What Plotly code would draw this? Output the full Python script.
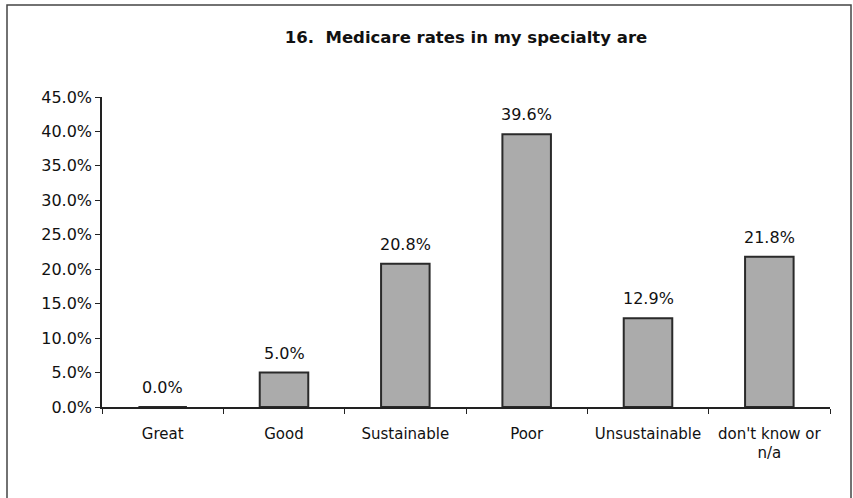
import plotly.graph_objects as go

categories = ["Great", "Good", "Sustainable", "Poor", "Unsustainable", "don't know or<br>n/a"]
values = [0.0, 0.050, 0.208, 0.396, 0.129, 0.218]
y_tickvals = [0, 0.05, 0.10, 0.15, 0.20, 0.25, 0.30, 0.35, 0.40, 0.45]

W, H = 853, 498
L, R, T, B = 102, 23, 97, 91
pw, ph = W - L - R, H - T - B

def px_x(px):
    return (px - L) / pw

def px_y(py):
    return (H - B - py) / ph

FONT = "DejaVu Sans"

fig = go.Figure(go.Bar(
    x=categories, y=values,
    marker=dict(color="#ababab", line=dict(color="#2a2a2a", width=2)),
    cliponaxis=False,
))

annotations = [
    dict(x=c, y=v, xref="x", yref="y", text=f"{v*100:.1f}%", showarrow=False,
         yanchor="bottom", yshift=8, font=dict(family=FONT, size=16, color="#111"))
    for c, v in zip(categories, values)
]

fig.update_layout(
    width=W, height=H,
    margin=dict(l=L, r=R, t=T, b=B, autoexpand=False),
    paper_bgcolor="white", plot_bgcolor="white",
    bargap=0.6,
    showlegend=False,
    title=dict(text="<b>16.  Medicare rates in my specialty are</b>",
               x=0.5, xref="paper", xanchor="center",
               y=1 - 37 / H, yanchor="middle",
               font=dict(family=FONT, size=16.5, color="#111")),
    font=dict(family=FONT, size=16, color="#111"),
    annotations=annotations,
    shapes=[dict(type="rect", xref="paper", yref="paper",
                 x0=px_x(7), x1=px_x(851), y0=px_y(520), y1=px_y(5),
                 line=dict(color="#444", width=1.5), layer="below")],
)

fig.update_xaxes(
    showline=True, linecolor="#222", linewidth=1.5,
    ticks="outside", tickson="boundaries", ticklen=5, tickcolor="#222",
    showgrid=False, ticklabelstandoff=12, tickangle=0, automargin=False,
    tickfont=dict(family=FONT, size=15, color="#111"),
)
fig.update_yaxes(
    range=[0, 0.45], tickvals=y_tickvals, tickformat=".1%",
    showline=True, linecolor="#222", linewidth=1.5,
    ticks="outside", ticklen=5, tickcolor="#222",
    showgrid=False, zeroline=False, automargin=False,
    tickfont=dict(family=FONT, size=16, color="#111"),
)

fig.write_html("out.html", config={"displayModeBar": False},
               post_script="document.body.style.margin='0';")
